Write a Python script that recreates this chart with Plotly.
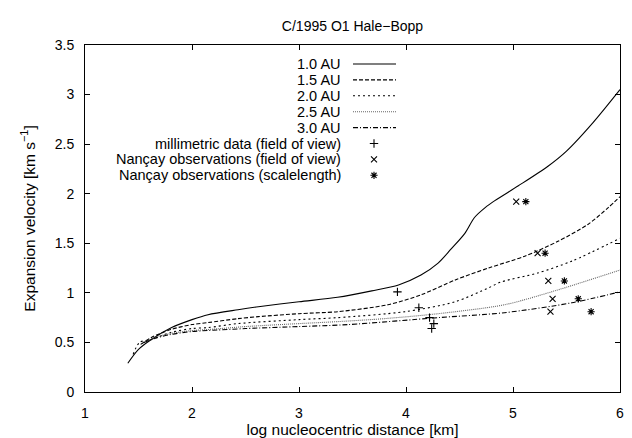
import plotly.graph_objects as go

# ---- data ----
x_10 = [1.40, 1.50, 1.62, 1.81, 2.00, 2.15, 2.43, 2.62, 3.00, 3.36, 3.68, 3.93, 4.14, 4.30, 4.42, 4.55, 4.64, 4.74, 4.83, 5.05, 5.33, 5.50, 5.75, 6.00]
v_10 = [0.29, 0.43, 0.53, 0.65, 0.73, 0.78, 0.83, 0.86, 0.91, 0.955, 1.02, 1.08, 1.18, 1.30, 1.44, 1.60, 1.76, 1.86, 1.93, 2.08, 2.28, 2.43, 2.72, 3.05]

x_15 = [1.52, 1.62, 1.80, 2.00, 2.15, 2.43, 2.62, 3.00, 3.36, 3.83, 4.14, 4.46, 4.77, 5.11, 5.42, 5.70, 5.89, 6.00]
v_15 = [0.48, 0.55, 0.63, 0.68, 0.70, 0.74, 0.76, 0.79, 0.81, 0.88, 0.98, 1.13, 1.25, 1.37, 1.52, 1.69, 1.86, 1.97]

x_20 = [1.45, 1.51, 1.62, 1.80, 2.00, 2.15, 2.43, 3.00, 3.36, 3.99, 4.46, 4.77, 4.89, 5.23, 5.55, 6.00]
v_20 = [0.38, 0.50, 0.53, 0.60, 0.64, 0.65, 0.69, 0.73, 0.75, 0.81, 0.91, 1.05, 1.11, 1.20, 1.32, 1.55]

x_25 = [1.55, 1.65, 1.80, 2.00, 2.15, 2.50, 3.00, 3.36, 3.80, 4.30, 4.92, 5.39, 6.00]
v_25 = [0.50, 0.55, 0.59, 0.62, 0.63, 0.66, 0.69, 0.71, 0.74, 0.79, 0.88, 1.02, 1.23]

x_30 = [1.55, 1.65, 1.80, 2.00, 2.15, 2.50, 3.00, 3.46, 4.30, 4.92, 5.55, 6.00]
v_30 = [0.50, 0.54, 0.58, 0.61, 0.62, 0.64, 0.66, 0.68, 0.75, 0.80, 0.90, 1.01]

x_mm = [3.92, 4.12, 4.22, 4.26, 4.24]
v_mm = [1.01, 0.85, 0.75, 0.69, 0.64]

x_nfov = [5.03, 5.23, 5.33, 5.37, 5.35]
v_nfov = [1.92, 1.40, 1.12, 0.94, 0.81]

x_nsl = [5.12, 5.30, 5.48, 5.61, 5.73]
v_nsl = [1.92, 1.40, 1.12, 0.94, 0.81]

x_ticks = [1, 2, 3, 4, 5, 6]
y_ticks = [0, 0.5, 1, 1.5, 2, 2.5, 3, 3.5]

curve_names = ["1.0 AU", "1.5 AU", "2.0 AU", "2.5 AU", "3.0 AU"]
point_names = ["millimetric data (field of view)",
               "Nançay observations (field of view)",
               "Nançay observations (scalelength)"]

# ---- styles ----
FONT = "Liberation Sans, Arial, Helvetica, sans-serif"
curve_styles = [
    dict(color="black", width=1.1, dash="solid"),
    dict(color="black", width=1.1, dash="4px,2px"),
    dict(color="black", width=1.1, dash="2px,3px"),
    dict(color="#666666", width=1.1, dash="1px,1px"),
    dict(color="black", width=1.1, dash="5px,2px,1px,2px"),
]
point_symbols = ["cross-thin-open", "x-thin-open", "asterisk-open"]
MSIZE = 6

W, H = 632, 438
L, R, T, B = 77, 20, 37, 54
PW, PH = W - L - R, H - T - B

fig = go.Figure()

curves = [(x_10, v_10), (x_15, v_15), (x_20, v_20), (x_25, v_25), (x_30, v_30)]
for (xs, vs), name, st in zip(curves, curve_names, curve_styles):
    fig.add_trace(go.Scatter(x=xs, y=vs, mode="lines", name=name,
                             line=dict(shape="spline", smoothing=0.8, **st),
                             showlegend=False, hoverinfo="skip"))

pts = [(x_mm, v_mm), (x_nfov, v_nfov), (x_nsl, v_nsl)]
for (xs, vs), name, sym in zip(pts, point_names, point_symbols):
    fig.add_trace(go.Scatter(x=xs, y=vs, mode="markers", name=name,
                             marker=dict(symbol=sym, size=MSIZE, color="black",
                                         line=dict(color="black", width=1.1)),
                             showlegend=False, hoverinfo="skip"))

# ---- hand-made key (gnuplot style: text right, sample left) ----
def px2fx(px):
    return (px - L) / PW

def py2fy(py):
    return (T + PH - py) / PH

KEY_TOP, KEY_STEP = 56, 15.9
text_right = 334
samp_l, samp_r, samp_c = 345, 388, 366

def row_fy(k):
    return py2fy(KEY_TOP + KEY_STEP * k)

for i, (name, st) in enumerate(zip(curve_names, curve_styles)):
    fy = row_fy(i)
    fig.add_trace(go.Scatter(x=[px2fx(samp_l), px2fx(samp_r)], y=[fy, fy],
                             xaxis="x2", yaxis="y2", mode="lines",
                             line=st, showlegend=False, hoverinfo="skip"))
for j, (name, sym) in enumerate(zip(point_names, point_symbols)):
    fy = row_fy(5 + j)
    fig.add_trace(go.Scatter(x=[px2fx(samp_c)], y=[fy], xaxis="x2", yaxis="y2",
                             mode="markers",
                             marker=dict(symbol=sym, size=MSIZE, color="black",
                                         line=dict(color="black", width=1.1)),
                             showlegend=False, hoverinfo="skip"))

for k, name in enumerate(curve_names + point_names):
    fig.add_annotation(x=px2fx(text_right), y=row_fy(k), xref="paper", yref="paper",
                       text=name, showarrow=False, xanchor="right", yanchor="middle",
                       borderpad=0,
                       font=dict(family=FONT, size=14.5, color="black"))

axis_common = dict(showline=True, linecolor="black", linewidth=1, mirror="ticks",
                   ticks="inside", ticklen=5, tickcolor="black", showgrid=False,
                   zeroline=False, tickfont=dict(family=FONT, size=14, color="black"))

fig.update_layout(
    width=W, height=H,
    margin=dict(l=L, r=R, t=T, b=B),
    paper_bgcolor="white", plot_bgcolor="white",
    title=dict(text="C/1995 O1 Hale−Bopp", x=(L + PW / 2) / W, xanchor="center",
               y=1 - 18 / H, yanchor="middle",
               font=dict(family=FONT, size=14, color="black")),
    xaxis=dict(range=[1, 6], tickvals=x_ticks, ticktext=[str(t) for t in x_ticks],
               ticklabelstandoff=8,
               title=dict(text="log nucleocentric distance [km]", standoff=2,
                          font=dict(family=FONT, size=15.5, color="black")),
               **axis_common),
    yaxis=dict(range=[0, 3.5], tickvals=y_ticks, ticktext=[f"{t:g}" for t in y_ticks],
               ticklabelstandoff=7,
               title=dict(text="Expansion velocity [km s<sup>−1</sup>]", standoff=15,
                          font=dict(family=FONT, size=15.5, color="black")),
               **axis_common),
    xaxis2=dict(range=[0, 1], overlaying="x", visible=False, fixedrange=True),
    yaxis2=dict(range=[0, 1], overlaying="y", visible=False, fixedrange=True),
    font=dict(family=FONT, color="black"),
)

fig.write_html("out.html")
